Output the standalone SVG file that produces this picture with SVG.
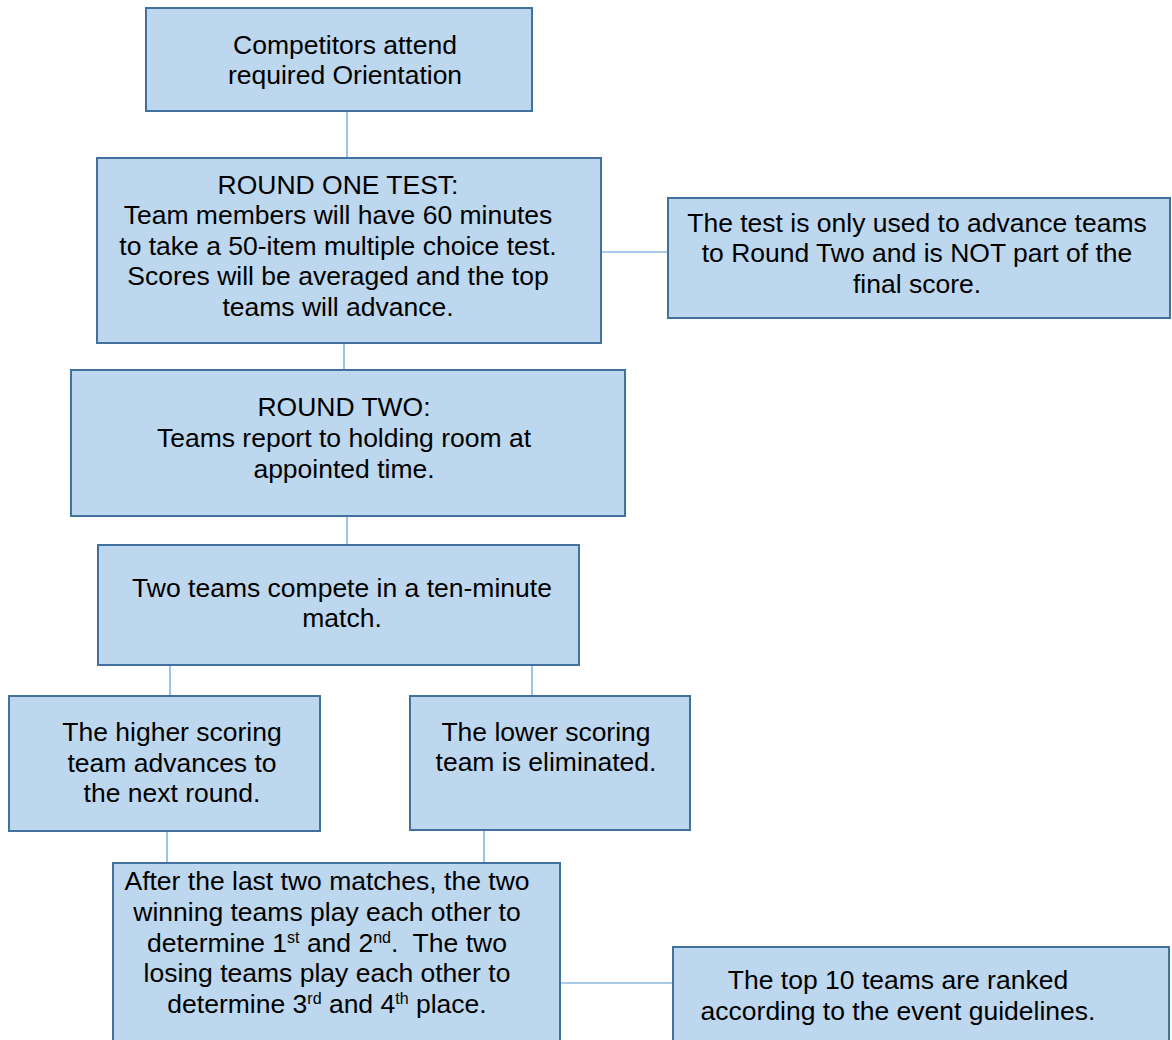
<svg xmlns="http://www.w3.org/2000/svg" width="1172" height="1040" viewBox="0 0 1172 1040">
<style>
.box{fill:#BDD7EE;stroke:#41719C;stroke-width:2}
.t{font-family:"Liberation Sans",Arial,sans-serif;font-size:26.5px;fill:#000;text-anchor:middle}
.c{stroke:#5B9BD5;stroke-width:1.2;fill:none}
.sup{font-size:16px}
</style>
<rect width="1172" height="1040" fill="#fff"/>
<g id="connectors">
<line class="c" x1="347" y1="111" x2="347" y2="158"/>
<line class="c" x1="601" y1="252" x2="668" y2="252"/>
<line class="c" x1="344" y1="343" x2="344" y2="370"/>
<line class="c" x1="347" y1="516" x2="347" y2="545"/>
<line class="c" x1="170" y1="665" x2="170" y2="696"/>
<line class="c" x1="532" y1="665" x2="532" y2="696"/>
<line class="c" x1="167" y1="831" x2="167" y2="863"/>
<line class="c" x1="484" y1="830" x2="484" y2="863"/>
<line class="c" x1="560" y1="983" x2="673" y2="983"/>
</g>
<g id="orientation">
<rect class="box" x="146" y="8" width="386" height="103"/>
<text class="t" x="345" y="54">Competitors attend</text>
<text class="t" x="345" y="84">required Orientation</text>
</g>
<g id="round-one">
<rect class="box" x="97" y="158" width="504" height="185"/>
<text class="t" x="338" y="194">ROUND ONE TEST:</text>
<text class="t" x="338" y="224">Team members will have 60 minutes</text>
<text class="t" x="338" y="255">to take a 50-item multiple choice test.</text>
<text class="t" x="338" y="285">Scores will be averaged and the top</text>
<text class="t" x="338" y="316">teams will advance.</text>
</g>
<g id="test-note">
<rect class="box" x="668" y="198" width="502" height="120"/>
<text class="t" x="917" y="232">The test is only used to advance teams</text>
<text class="t" x="917" y="262">to Round Two and is NOT part of the</text>
<text class="t" x="917" y="293">final score.</text>
</g>
<g id="round-two">
<rect class="box" x="71" y="370" width="554" height="146"/>
<text class="t" x="344" y="416">ROUND TWO:</text>
<text class="t" x="344" y="447">Teams report to holding room at</text>
<text class="t" x="344" y="478">appointed time.</text>
</g>
<g id="match">
<rect class="box" x="98" y="545" width="481" height="120"/>
<text class="t" x="342" y="597">Two teams compete in a ten-minute</text>
<text class="t" x="342" y="627">match.</text>
</g>
<g id="higher">
<rect class="box" x="9" y="696" width="311" height="135"/>
<text class="t" x="172" y="741">The higher scoring</text>
<text class="t" x="172" y="772">team advances to</text>
<text class="t" x="172" y="802">the next round.</text>
</g>
<g id="lower">
<rect class="box" x="410" y="696" width="280" height="134"/>
<text class="t" x="546" y="741">The lower scoring</text>
<text class="t" x="546" y="771">team is eliminated.</text>
</g>
<g id="finals">
<rect class="box" x="113" y="863" width="447" height="190"/>
<text class="t" x="327" y="890">After the last two matches, the two</text>
<text class="t" x="327" y="921">winning teams play each other to</text>
<text class="t" x="327" y="952" xml:space="preserve">determine 1<tspan class="sup" dy="-9">st</tspan><tspan dy="9"> and 2</tspan><tspan class="sup" dy="-9">nd</tspan><tspan dy="9">.  The two</tspan></text>
<text class="t" x="327" y="982">losing teams play each other to</text>
<text class="t" x="327" y="1013">determine 3<tspan class="sup" dy="-9">rd</tspan><tspan dy="9"> and 4</tspan><tspan class="sup" dy="-9">th</tspan><tspan dy="9"> place.</tspan></text>
</g>
<g id="ranking">
<rect class="box" x="673" y="947" width="496" height="106"/>
<text class="t" x="898" y="989">The top 10 teams are ranked</text>
<text class="t" x="898" y="1020">according to the event guidelines.</text>
</g>
</svg>
